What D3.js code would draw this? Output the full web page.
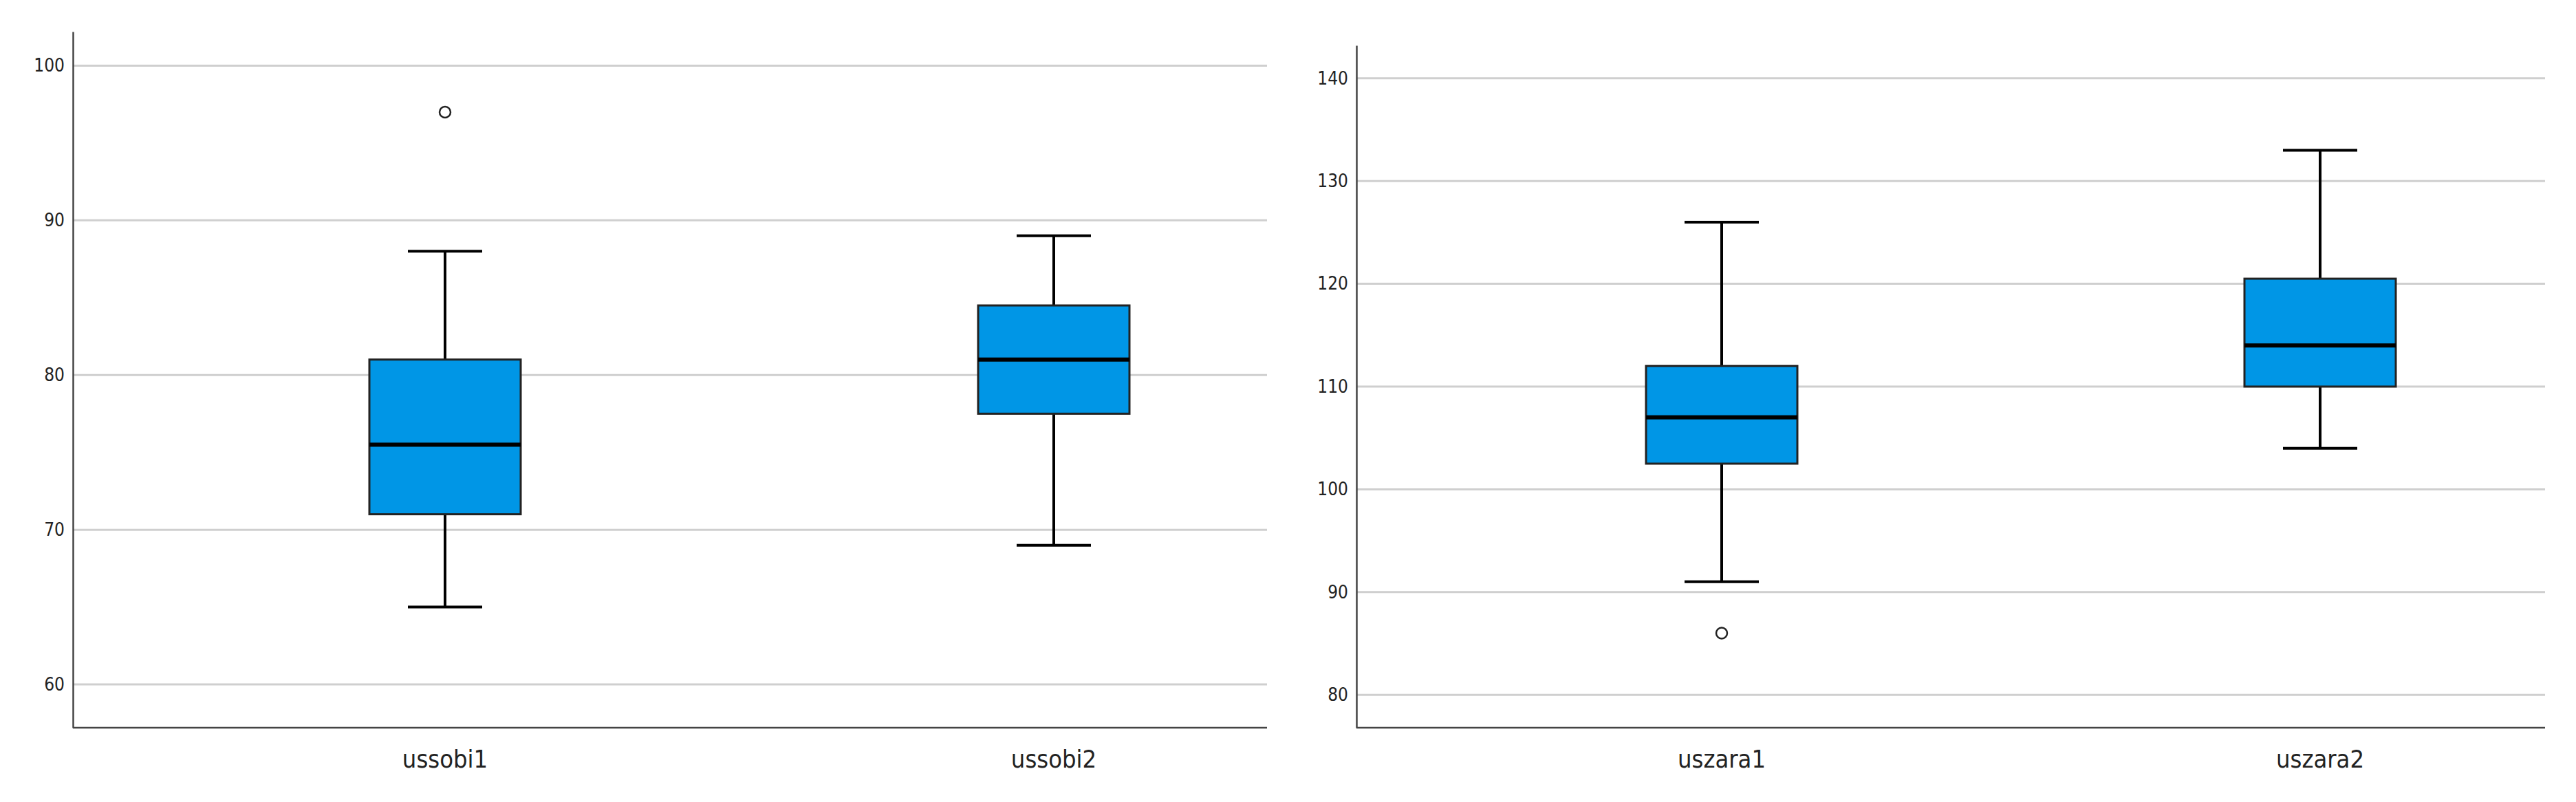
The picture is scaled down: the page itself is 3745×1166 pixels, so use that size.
<!DOCTYPE html><html><head><meta charset="utf-8"><script src="https://cdn.jsdelivr.net/npm/d3@7"></script>
<style>body{margin:0;background:#fff}text{font-family:"Liberation Sans Narrow","DejaVu Sans Condensed","Liberation Sans",sans-serif}</style></head><body><svg id="c" width="3745" height="1166"></svg>
<script>
const catsL=["ussobi1","ussobi2"], minL=[65,69], q1L=[71,77.5], medL=[75.5,81], q3L=[81,84.5], maxL=[88,89], outL=[[97],[]], ticksL=[60,70,80,90,100];
const catsR=["uszara1","uszara2"], minR=[91,104], q1R=[102.5,110], medR=[107,114], q3R=[112,120.5], maxR=[126,133], outR=[[86],[]], ticksR=[80,90,100,110,120,130,140];
const svg=d3.select("#c");
function panel(cfg){
  const {x0,x1,yTop,yBot,dom,cats,mn,q1,md,q3,mx,out,ticks,c1,c2}=cfg;
  const g=svg.append("g");
  const y=d3.scaleLinear().domain(dom).range([yBot,yTop]);
  const x=d3.scalePoint().domain(cats).range([c1,c2]);
  ticks.forEach(t=>{g.append("line").attr("x1",x0).attr("x2",x1).attr("y1",y(t)).attr("y2",y(t)).attr("stroke","#cfcfcf").attr("stroke-width",3);});
  const ax=g.append("g").attr("transform",`translate(${x0},0)`).call(d3.axisLeft(y).tickValues(ticks).tickSize(0).tickPadding(12));
  ax.select(".domain").attr("stroke","#444").attr("stroke-width",2.5);
  ax.selectAll("text").attr("font-size",26).attr("fill","#222");
  g.append("line").attr("x1",x0).attr("x2",x1).attr("y1",yBot).attr("y2",yBot).attr("stroke","#444").attr("stroke-width",2.5);
  cats.forEach((c,i)=>{
    const cx=x(c),hw=110,cw=54;
    g.append("line").attr("x1",cx).attr("x2",cx).attr("y1",y(mn[i])).attr("y2",y(mx[i])).attr("stroke","#000").attr("stroke-width",4);
    [mn[i],mx[i]].forEach(v=>g.append("line").attr("x1",cx-cw).attr("x2",cx+cw).attr("y1",y(v)).attr("y2",y(v)).attr("stroke","#000").attr("stroke-width",4));
    g.append("rect").attr("x",cx-hw).attr("width",2*hw).attr("y",y(q3[i])).attr("height",y(q1[i])-y(q3[i])).attr("fill","#0096e6").attr("stroke","#222").attr("stroke-width",3);
    g.append("line").attr("x1",cx-hw).attr("x2",cx+hw).attr("y1",y(md[i])).attr("y2",y(md[i])).attr("stroke","#000").attr("stroke-width",6);
    out[i].forEach(v=>g.append("ellipse").attr("cx",cx).attr("cy",y(v)).attr("rx",8).attr("ry",8).attr("fill","none").attr("stroke","#222").attr("stroke-width",2.5));
    g.append("text").attr("x",cx).attr("y",yBot+58).attr("text-anchor","middle").attr("font-size",36).attr("fill","#222").text(c);
  });
}
panel({x0:106,x1:1842,yTop:46,yBot:1058,dom:[57.2,102.2],cats:catsL,mn:minL,q1:q1L,md:medL,q3:q3L,mx:maxL,out:outL,ticks:ticksL,c1:647,c2:1532});
panel({x0:1972,x1:3700,yTop:66,yBot:1058,dom:[76.8,143.2],cats:catsR,mn:minR,q1:q1R,md:medR,q3:q3R,mx:maxR,out:outR,ticks:ticksR,c1:2503,c2:3373});
</script></body></html>
